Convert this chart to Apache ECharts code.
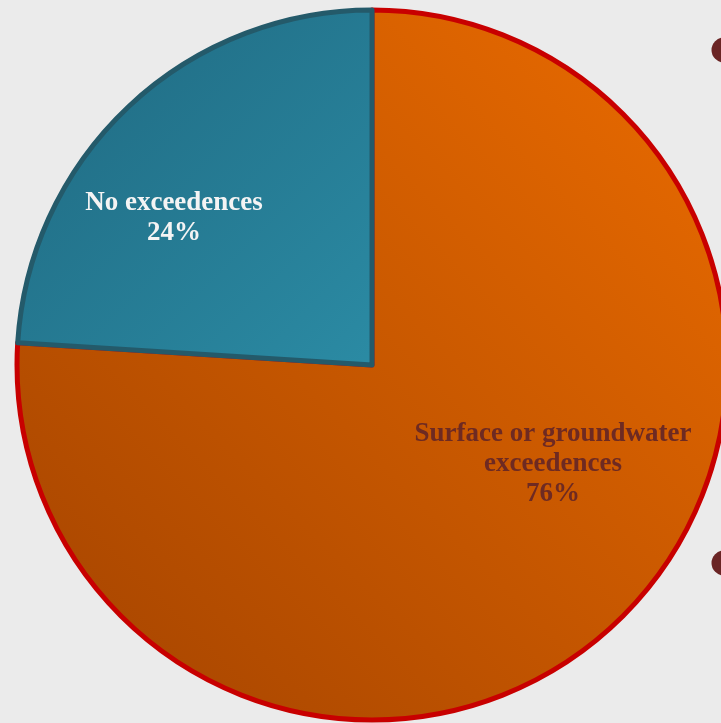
<!DOCTYPE html>
<html>
<head>
<meta charset="utf-8">
<script src="https://cdn.jsdelivr.net/npm/echarts@6/dist/echarts.min.js"></script>
<style>
html,body{margin:0;padding:0;background:#ebebeb;}
#chart{width:721px;height:723px;}
</style>
</head>
<body>
<div id="chart"></div>
<script>
const categories = ['Surface or groundwater\nexceedences', 'No exceedences'];
const values = [76, 24];
const labelTexts = ['Surface or groundwater\nexceedences\n76%', 'No exceedences\n24%'];

const chart = echarts.init(document.getElementById('chart'), null, {renderer: 'canvas'});
const lg = echarts.graphic.LinearGradient;
const itemStyles = [
  {
    color: new lg(1, 0, 0, 1, [{offset: 0, color: '#ec6c00'}, {offset: 1, color: '#a34300'}]),
    borderColor: '#c80000', borderWidth: 5
  },
  {
    color: new lg(0, 0, 1, 1, [{offset: 0, color: '#1f6880'}, {offset: 1, color: '#2b8ba4'}]),
    borderColor: '#245a6a', borderWidth: 5
  }
];
const labelStyles = [
  {color: '#6e2a22'},
  {color: '#f4f4f4'}
];
const labelPos = [[553, 464], [174, 218]];

chart.setOption({
  backgroundColor: '#ebebeb',
  animation: false,
  graphic: [
    {type: 'circle', shape: {cx: 724, cy: 50, r: 12.5}, style: {fill: '#6a2424'}},
    {type: 'circle', shape: {cx: 724, cy: 563, r: 12.5}, style: {fill: '#6a2424'}}
  ],
  series: [{
    type: 'pie',
    center: [372, 365],
    radius: 355,
    startAngle: 90,
    clockwise: true,
    silent: true,
    emphasis: {disabled: true},
    label: {
      show: true,
      position: 'inside',
      fontFamily: '"Liberation Serif", "Times New Roman", serif',
      fontWeight: 'bold',
      fontSize: 27,
      lineHeight: 30,
      align: 'center'
    },
    labelLine: {show: false},
    labelLayout: function (p) {
      const pos = labelPos[p.dataIndex];
      return {x: pos[0], y: pos[1], align: 'center', verticalAlign: 'middle'};
    },
    data: categories.map((c, i) => ({
      name: c,
      value: values[i],
      itemStyle: itemStyles[i],
      label: Object.assign({formatter: labelTexts[i]}, labelStyles[i])
    }))
  }]
});
</script>
</body>
</html>
